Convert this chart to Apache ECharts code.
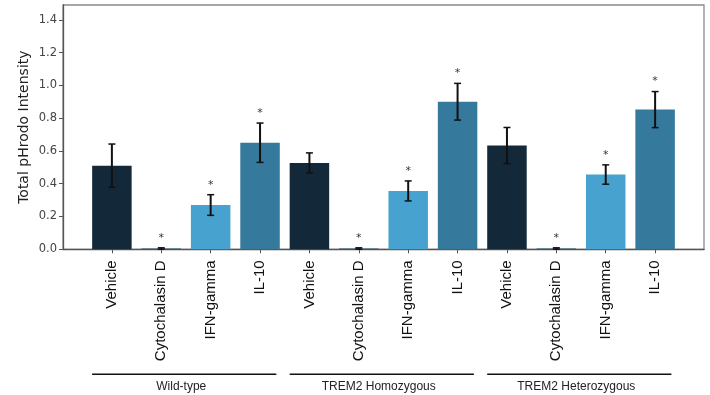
<!DOCTYPE html>
<html>
<head>
<meta charset="utf-8">
<script src="https://cdn.jsdelivr.net/npm/echarts@6/dist/echarts.min.js"></script>
<style>html,body{margin:0;padding:0;background:#fff}#c{width:710px;height:395px}</style>
</head>
<body>
<div id="c"></div>
<script>
var treatments = ['Vehicle', 'Cytochalasin D', 'IFN-gamma', 'IL-10'];
var groups = ['Wild-type', 'TREM2 Homozygous', 'TREM2 Heterozygous'];
var categories = [
  'Vehicle', 'Cytochalasin D', 'IFN-gamma', 'IL-10',
  'Vehicle', 'Cytochalasin D', 'IFN-gamma', 'IL-10',
  'Vehicle', 'Cytochalasin D', 'IFN-gamma', 'IL-10'
];
var means = [0.51, 0.005, 0.27, 0.65, 0.527, 0.005, 0.356, 0.90, 0.633, 0.005, 0.456, 0.852];
var errs = [0.132, 0.004, 0.063, 0.12, 0.061, 0.004, 0.061, 0.112, 0.11, 0.004, 0.059, 0.11];
var stars = [0, 1, 1, 1, 0, 1, 1, 1, 0, 1, 1, 1];
var yTicks = [0, 0.2, 0.4, 0.6, 0.8, 1.0, 1.2, 1.4];
var treatmentColors = ['#13293a', '#24546c', '#47a2cf', '#357a9c'];

var xIdx = categories.map(function (_, i) { return i; });

var barData = means.map(function (v, i) {
  return { value: [i, v], itemStyle: { color: treatmentColors[i % 4] } };
});
var errData = means.map(function (v, i) { return [i, v, errs[i], stars[i]]; });
var groupData = groups.map(function (g, gi) { return [gi]; });

var chart = echarts.init(document.getElementById('c'), null, { renderer: 'canvas' });
chart.setOption({
  animation: false,
  grid: { left: 63, right: 6, top: 5, bottom: 145.7, show: true, borderColor: '#8a8a8a', borderWidth: 1.3, containLabel: false },
  xAxis: {
    type: 'value', min: -0.99, max: 11.99,
    splitLine: { show: false },
    axisLine: { show: true, onZero: false, lineStyle: { color: '#555', width: 1.3 } },
    axisTick: { show: true, length: 4, lineStyle: { color: '#555' }, customValues: xIdx },
    axisLabel: {
      customValues: xIdx, rotate: 90, margin: 11,
      fontFamily: 'Liberation Sans', fontSize: 15, color: '#111',
      formatter: function (v) { return categories[Math.round(v)]; }
    }
  },
  yAxis: {
    type: 'value', min: 0, max: 1.49,
    name: 'Total pHrodo Intensity', nameLocation: 'middle', nameGap: 32, nameMoveOverlap: false,
    nameTextStyle: { fontFamily: 'DejaVu Sans', fontSize: 14, color: '#222' },
    splitLine: { show: false },
    axisLine: { show: true, onZero: false, lineStyle: { color: '#555', width: 1.3 } },
    axisTick: { show: true, length: 4, lineStyle: { color: '#555' }, customValues: yTicks },
    axisLabel: {
      customValues: yTicks, margin: 6,
      fontFamily: 'DejaVu Sans', fontSize: 11.5, color: '#444',
      formatter: function (v) { return v.toFixed(1); }
    }
  },
  series: [
    {
      type: 'bar', data: barData, barWidth: 39.5, z: 2
    },
    {
      type: 'custom', z: 5,
      data: errData,
      renderItem: function (params, api) {
        var x = api.value(0), m = api.value(1), e = api.value(2), s = api.value(3);
        var top = api.coord([x, m + e]);
        var bot = api.coord([x, m - e]);
        var cap = 3.5;
        var children = [
          { type: 'line', shape: { x1: top[0], y1: top[1], x2: bot[0], y2: bot[1] }, style: { stroke: '#111', lineWidth: 2 } },
          { type: 'line', shape: { x1: top[0] - cap, y1: top[1], x2: top[0] + cap, y2: top[1] }, style: { stroke: '#111', lineWidth: 1.5 } },
          { type: 'line', shape: { x1: bot[0] - cap, y1: bot[1], x2: bot[0] + cap, y2: bot[1] }, style: { stroke: '#111', lineWidth: 1.5 } }
        ];
        if (s) {
          children.push({
            type: 'text',
            style: { text: '*', x: top[0], y: top[1] - 10, align: 'center', verticalAlign: 'middle', fill: '#333', font: '11px DejaVu Sans' }
          });
        }
        return { type: 'group', children: children };
      }
    },
    {
      type: 'custom', z: 5, clip: false,
      data: groupData,
      renderItem: function (params, api) {
        var gi = api.value(0);
        var a = api.coord([gi * 4 - 0.4, 0]);
        var b = api.coord([gi * 4 + 3.33, 0]);
        var y = a[1] + 125;
        return {
          type: 'group',
          children: [
            { type: 'line', shape: { x1: a[0], y1: y, x2: b[0], y2: y }, style: { stroke: '#111', lineWidth: 1.5 } },
            { type: 'text', style: { text: groups[gi], x: (a[0] + b[0]) / 2 - 3, y: y + 12, align: 'center', verticalAlign: 'middle', fill: '#222', font: '12px Liberation Sans' } }
          ]
        };
      }
    }
  ]
});
</script>
</body>
</html>
